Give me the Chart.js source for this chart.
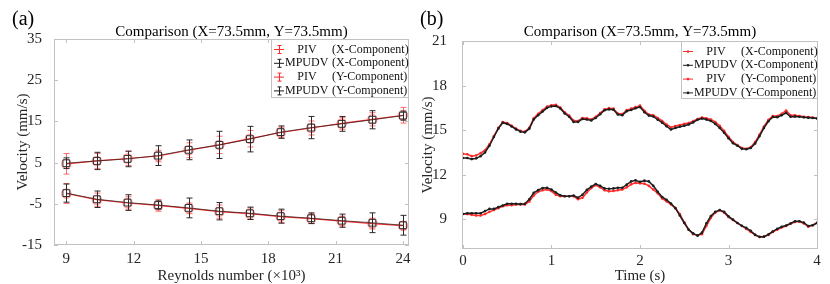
<!DOCTYPE html>
<html>
<head>
<meta charset="utf-8">
<script src="https://cdn.jsdelivr.net/npm/chart.js@4"></script>
<style>
  body { margin: 0; background: #fff; }
  .panel { position: absolute; top: 0; width: 415px; height: 284px; }
</style>
</head>
<body>
<div class="panel" style="left:0"><canvas id="chartA" width="415" height="284"></canvas></div>
<div class="panel" style="left:415px"><canvas id="chartB" width="415" height="284"></canvas></div>
<script>
const FONT = "'Liberation Serif', 'Times New Roman', serif";
const RED = "#ff2b2b";
const BLACK = "#1e1e1e";

// (a) velocity vs Reynolds number
const reynolds = [9, 10.36, 11.73, 13.09, 14.45, 15.82, 17.18, 18.55, 19.91, 21.27, 22.64, 24.0];
const pivX = [4.7, 5.4, 6.0, 6.6, 8.0, 9.3, 10.8, 12.3, 13.4, 14.5, 15.5, 16.5];
const mpudvX = [4.85, 5.4, 5.9, 6.7, 8.1, 9.3, 10.7, 12.4, 13.5, 14.4, 15.4, 16.4];
const pivY = [-2.5, -4.0, -4.8, -5.4, -6.1, -6.9, -7.4, -8.1, -8.6, -9.2, -9.8, -10.3];
const mpudvY = [-2.4, -3.9, -4.7, -5.3, -6.0, -6.8, -7.3, -8.0, -8.5, -9.1, -9.6, -10.2];
const errPivX = [2.5, 1.8, 1.7, 1.4, 1.8, 2.1, 2.0, 1.3, 1.7, 1.4, 1.6, 1.9];
const errMpudvX = [1.3, 2.1, 1.9, 2.4, 2.4, 3.3, 3.1, 1.5, 2.7, 1.8, 2.2, 1.1];
const errPivY = [2.4, 1.6, 1.5, 1.4, 1.3, 1.6, 1.4, 1.5, 1.2, 1.2, 1.3, 1.0];
const errMpudvY = [2.2, 2.0, 1.9, 1.0, 2.4, 2.1, 1.5, 1.7, 1.3, 1.6, 2.4, 2.4];
const reTicks = [9, 12, 15, 18, 21, 24];
const velTicksA = [-15, -5, 5, 15, 25, 35];

// (b) velocity vs time
const time = [0, 0.05, 0.1, 0.15, 0.2, 0.25, 0.3, 0.35, 0.4, 0.45, 0.5, 0.55, 0.6, 0.65, 0.7, 0.75, 0.8, 0.85, 0.9, 0.95,
  1, 1.05, 1.1, 1.15, 1.2, 1.25, 1.3, 1.35, 1.4, 1.45, 1.5, 1.55, 1.6, 1.65, 1.7, 1.75, 1.8, 1.85, 1.9, 1.95,
  2, 2.05, 2.1, 2.15, 2.2, 2.25, 2.3, 2.35, 2.4, 2.45, 2.5, 2.55, 2.6, 2.65, 2.7, 2.75, 2.8, 2.85, 2.9, 2.95,
  3, 3.05, 3.1, 3.15, 3.2, 3.25, 3.3, 3.35, 3.4, 3.45, 3.5, 3.55, 3.6, 3.65, 3.7, 3.75, 3.8, 3.85, 3.9, 3.95, 4];
const pivXt = [13.4, 13.38, 13.25, 13.3, 13.45, 13.65, 14.05, 14.6, 15.15, 15.55, 15.48, 15.3, 15.1, 14.95, 14.9, 15.15, 15.8, 16.1, 16.35, 16.58,
  16.68, 16.7, 16.52, 16.2, 15.98, 15.65, 15.62, 15.82, 15.8, 15.72, 15.9, 16.15, 16.4, 16.48, 16.45, 16.12, 16.08, 16.35, 16.45, 16.55,
  16.65, 16.3, 16.05, 16.0, 15.82, 15.62, 15.38, 15.18, 15.28, 15.35, 15.42, 15.48, 15.6, 15.75, 15.85, 15.8, 15.72, 15.55, 15.3, 14.95,
  14.55, 14.2, 14.0, 13.8, 13.75, 13.85, 14.2, 14.7, 15.25, 15.7, 15.95, 15.95, 16.1, 16.32, 16.0, 16.0, 15.95, 15.9, 15.88, 15.85, 15.8];
const mpudvXt = [13.12, 13.12, 13.05, 13.1, 13.25, 13.5, 13.95, 14.54, 15.1, 15.5, 15.42, 15.25, 15.05, 14.9, 14.85, 15.1, 15.72, 16.0, 16.25, 16.5,
  16.6, 16.62, 16.46, 16.12, 15.9, 15.55, 15.55, 15.75, 15.72, 15.65, 15.82, 16.07, 16.34, 16.4, 16.38, 16.05, 16.0, 16.28, 16.36, 16.47,
  16.55, 16.2, 15.98, 15.92, 15.7, 15.5, 15.26, 15.04, 15.15, 15.23, 15.3, 15.38, 15.52, 15.7, 15.78, 15.71, 15.62, 15.42, 15.15, 14.82,
  14.45, 14.12, 13.95, 13.74, 13.71, 13.8, 14.1, 14.6, 15.15, 15.6, 15.88, 15.87, 16.0, 16.16, 15.9, 15.92, 15.9, 15.86, 15.84, 15.82, 15.78];
const pivYt = [9.36, 9.35, 9.3, 9.25, 9.25, 9.35, 9.5, 9.62, 9.75, 9.88, 9.95, 9.95, 10.0, 10.02, 10.0, 10.2, 10.6, 10.85, 10.95, 11.0,
  10.9, 10.65, 10.55, 10.55, 10.55, 10.55, 10.35, 10.45, 10.8, 11.1, 11.3, 11.15, 10.95, 10.88, 10.9, 10.95, 11.0, 11.15, 11.35, 11.45,
  11.42, 11.4, 11.25, 11.0, 10.75, 10.4, 10.2, 10.0, 9.75, 9.35, 8.8, 8.3, 8.0, 7.92, 8.0, 8.55, 9.1, 9.45, 9.6, 9.45,
  9.15, 8.95, 8.75, 8.55, 8.35, 8.15, 7.95, 7.8, 7.82, 7.95, 8.15, 8.3, 8.45, 8.55, 8.7, 8.82, 8.85, 8.72, 8.5, 8.6, 8.78];
const mpudvYt = [9.36, 9.41, 9.41, 9.41, 9.41, 9.55, 9.7, 9.7, 9.82, 9.93, 10.04, 10.04, 10.04, 10.02, 10.05, 10.35, 10.78, 10.96, 11.1, 11.12,
  11.0, 10.8, 10.62, 10.55, 10.55, 10.6, 10.45, 10.65, 10.98, 11.2, 11.38, 11.25, 11.08, 11.06, 11.08, 11.12, 11.12, 11.33, 11.55, 11.62,
  11.52, 11.6, 11.55, 11.25, 10.85, 10.5, 10.31, 10.06, 9.75, 9.25, 8.75, 8.3, 8.05, 7.9, 8.1, 8.73, 9.22, 9.5, 9.62, 9.5,
  9.2, 8.98, 8.75, 8.56, 8.42, 8.22, 7.95, 7.82, 7.83, 7.98, 8.18, 8.36, 8.5, 8.58, 8.72, 8.86, 8.87, 8.78, 8.55, 8.6, 8.75];
const timeTicks = [0, 1, 2, 3, 4];
const velTicksB = [9, 12, 15, 18, 21];

const legendNames = ["PIV", "MPUDV", "PIV", "MPUDV"];
const legendComps = ["(X-Component)", "(X-Component)", "(Y-Component)", "(Y-Component)"];

function pts(xs, ys) {
  return xs.map((x, i) => ({ x, y: ys[i] }));
}

// error bars drawn through the y scale
const errorBars = {
  id: "errorBars",
  afterDatasetDraw(chart, args) {
    const ds = chart.data.datasets[args.index];
    if (!ds.errors) return;
    const { ctx } = chart;
    const y = chart.scales.y;
    ctx.save();
    ctx.strokeStyle = ds.errColor;
    ctx.lineWidth = 1;
    ctx.beginPath();
    args.meta.data.forEach((p, i) => {
      const v = ds.data[i].y, e = ds.errors[i];
      const t = y.getPixelForValue(v + e), b = y.getPixelForValue(v - e);
      const px = Math.round(p.x) + 0.5;
      ctx.moveTo(px, t); ctx.lineTo(px, b);
      ctx.moveTo(px - 3, t); ctx.lineTo(px + 3, t);
      ctx.moveTo(px - 3, b); ctx.lineTo(px + 3, b);
    });
    ctx.stroke();
    ctx.restore();
  },
};

// MATLAB style box, inward ticks, title, panel tag and legend
const frame = {
  id: "frame",
  afterDraw(chart, args, o) {
    const { ctx, chartArea: a } = chart;
    const sx = chart.scales.x, sy = chart.scales.y;
    ctx.save();
    ctx.strokeStyle = "#c2c2c2";
    ctx.lineWidth = 1;
    ctx.strokeRect(a.left + 0.5, a.top + 0.5, a.width - 1, a.height - 1);
    ctx.beginPath();
    sx.ticks.forEach((t) => {
      const px = Math.round(sx.getPixelForValue(t.value)) + 0.5;
      ctx.moveTo(px, a.bottom); ctx.lineTo(px, a.bottom - 4);
      ctx.moveTo(px, a.top); ctx.lineTo(px, a.top + 4);
    });
    sy.ticks.forEach((t) => {
      const py = Math.round(sy.getPixelForValue(t.value)) + 0.5;
      ctx.moveTo(a.left, py); ctx.lineTo(a.left + 4, py);
      ctx.moveTo(a.right, py); ctx.lineTo(a.right - 4, py);
    });
    ctx.stroke();

    ctx.fillStyle = "#000";
    ctx.textBaseline = "middle";
    ctx.textAlign = "center";
    ctx.font = "15px " + FONT;
    ctx.fillText(o.title, (a.left + a.right) / 2, 32);
    ctx.textAlign = "left";
    ctx.font = "20px " + FONT;
    ctx.fillText(o.tag, o.tagX, 20);

    // legend
    const L = o.legend;
    const bx = a.right - L.w;
    ctx.fillStyle = "#fff";
    ctx.fillRect(bx, a.top + 1, L.w - 1, L.h);
    ctx.strokeStyle = "#c2c2c2";
    ctx.strokeRect(bx + 0.5, a.top + 0.5, L.w - 1, L.h);
    ctx.font = "12px " + FONT;
    chart.data.datasets.forEach((ds, i) => {
      const ry = a.top + 10.5 + i * 13.8;
      const sxc = bx + L.sym;
      const col = ds.legendColor;
      ctx.strokeStyle = col;
      ctx.lineWidth = 1;
      ctx.beginPath();
      ctx.moveTo(sxc - 5, ry); ctx.lineTo(sxc + 5, ry);
      if (L.err) {
        ctx.moveTo(sxc + 0.5, ry - 4); ctx.lineTo(sxc + 0.5, ry + 4);
        ctx.moveTo(sxc - 1.5, ry - 4); ctx.lineTo(sxc + 2.5, ry - 4);
        ctx.moveTo(sxc - 1.5, ry + 4); ctx.lineTo(sxc + 2.5, ry + 4);
      }
      ctx.stroke();
      if (!L.err) {
        ctx.fillStyle = col;
        ctx.beginPath(); ctx.arc(sxc, ry, 1.3, 0, Math.PI * 2); ctx.fill();
      }
      ctx.fillStyle = "#111";
      const name = legendNames[i];
      if (name === "PIV") {
        ctx.textAlign = "center";
        ctx.fillText(name, bx + L.piv, ry);
      } else {
        ctx.textAlign = "left";
        ctx.fillText(name, bx + L.mp, ry);
      }
      ctx.textAlign = "left";
      ctx.fillText(legendComps[i], bx + L.comp, ry);
    });
    ctx.restore();
  },
};

function axes(xTicks, yTicks, xr, yr, yWidth, xHeight, yTitle, xTitle, yTitlePad, yTickPad, xTickPad) {
  const tickFont = { family: FONT, size: 15 };
  return {
    x: {
      type: "linear", min: xr[0], max: xr[1],
      afterBuildTicks: (s) => { s.ticks = xTicks.map((v) => ({ value: v })); },
      afterFit: (s) => { s.height = xHeight; },
      grid: { display: false }, border: { display: false },
      ticks: { font: tickFont, color: "#262626", padding: xTickPad, maxRotation: 0 },
      title: { display: true, text: xTitle, font: { family: FONT, size: 15, lineHeight: 1 }, color: "#262626", padding: { top: 0, bottom: 0 } },
    },
    y: {
      min: yr[0], max: yr[1],
      afterBuildTicks: (s) => { s.ticks = yTicks.map((v) => ({ value: v })); },
      afterFit: (s) => { s.width = yWidth; },
      grid: { display: false }, border: { display: false },
      ticks: { font: tickFont, color: "#262626", padding: yTickPad },
      title: { display: true, text: yTitle, font: { family: FONT, size: 15, lineHeight: 1 }, color: "#262626", padding: { top: yTitlePad, bottom: 0 } },
    },
  };
}

const pivErrStyle = { errColor: "rgba(255,60,60,0.75)", borderColor: RED, legendColor: RED, borderWidth: 1.2, order: 1,
  pointStyle: "circle", pointRadius: 4.5, pointBorderColor: "rgba(255,90,90,0.65)", pointBackgroundColor: "transparent", pointBorderWidth: 1.5 };
const mpErrStyle = { errColor: "#2a2a2a", borderColor: "rgba(30,30,30,0.7)", legendColor: BLACK, borderWidth: 1, order: 0,
  pointStyle: "rect", pointRadius: 4.8, pointBorderColor: "#333", pointBackgroundColor: "transparent", pointBorderWidth: 1 };

new Chart(document.getElementById("chartA"), {
  type: "line",
  data: {
    datasets: [
      { data: pts(reynolds, pivX), errors: errPivX, ...pivErrStyle },
      { data: pts(reynolds, mpudvX), errors: errMpudvX, ...mpErrStyle },
      { data: pts(reynolds, pivY), errors: errPivY, ...pivErrStyle },
      { data: pts(reynolds, mpudvY), errors: errMpudvY, ...mpErrStyle },
    ],
  },
  options: {
    responsive: false, animation: false, events: [],
    layout: { padding: { top: 39, right: 1, left: 0, bottom: 0 } },
    scales: axes(reTicks, velTicksA, [8.45, 24.27], [-15, 35], 54, 39, "Velocity (mm/s)", "Reynolds number (×10³)", 16, 4, -3),
    plugins: {
      legend: { display: false }, tooltip: { enabled: false },
      frame: { title: "Comparison (X=73.5mm, Y=73.5mm)", tag: "(a)", tagX: 12,
        legend: { w: 138, h: 58, sym: 8, piv: 36, mp: 14, comp: 61, err: true } },
    },
  },
  plugins: [errorBars, frame],
});

const pivLine = { borderColor: RED, legendColor: RED, borderWidth: 1.5, pointRadius: 1.3, pointBackgroundColor: RED, pointBorderWidth: 0, order: 1 };
const mpLine = { borderColor: BLACK, legendColor: BLACK, borderWidth: 1.5, pointRadius: 1.3, pointBackgroundColor: BLACK, pointBorderWidth: 0, order: 0 };

new Chart(document.getElementById("chartB"), {
  type: "line",
  data: {
    datasets: [
      { data: pts(time, pivXt), ...pivLine },
      { data: pts(time, mpudvXt), ...mpLine },
      { data: pts(time, pivYt), ...pivLine },
      { data: pts(time, mpudvYt), ...mpLine },
    ],
  },
  options: {
    responsive: false, animation: false, events: [],
    layout: { padding: { top: 41, right: 12, left: 0, bottom: 0 } },
    scales: axes(timeTicks, velTicksB, [-0.01, 4.01], [7, 21], 47, 35, "Velocity (mm/s)", "Time (s)", 6, 7, -5),
    plugins: {
      legend: { display: false }, tooltip: { enabled: false },
      frame: { title: "Comparison (X=73.5mm, Y=73.5mm)", tag: "(b)", tagX: 5,
        legend: { w: 137, h: 57, sym: 7, piv: 35, mp: 13, comp: 60, err: false } },
    },
  },
  plugins: [frame],
});
</script>
</body>
</html>
